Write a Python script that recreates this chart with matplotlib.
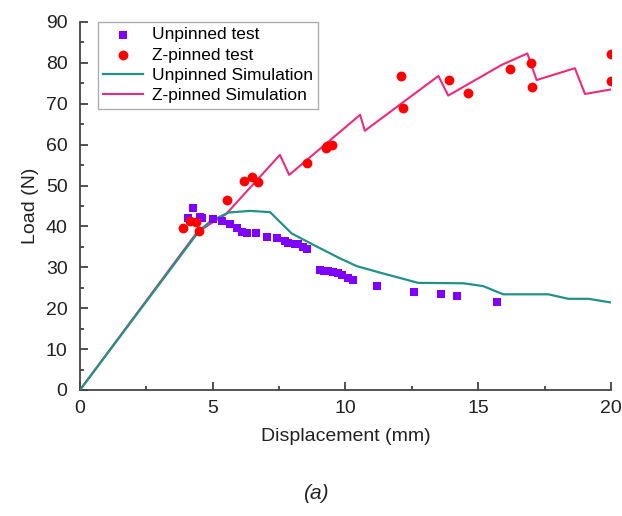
import matplotlib
matplotlib.use("Agg")
from matplotlib import pyplot as plt
from matplotlib.ticker import MultipleLocator

plt.rcParams['font.family'] = ['Liberation Sans', 'DejaVu Sans']

# unpinned test points (mm, N)
unpinned_x = [4.08, 4.27, 4.52, 4.58, 5.0, 5.34, 5.65, 5.9, 6.09, 6.28, 6.63, 7.03, 7.41,
              7.72, 7.85, 8.1, 8.22, 8.41, 8.54, 9.04, 9.2, 9.35, 9.54, 9.73, 9.86, 10.1,
              10.3, 11.2, 12.58, 13.6, 14.2, 15.7]
unpinned_y = [42.1, 44.6, 42.4, 42.0, 41.7, 41.3, 40.5, 39.5, 38.7, 38.5, 38.3, 37.5, 37.1,
              36.5, 36.0, 35.7, 35.6, 35.0, 34.5, 29.3, 29.2, 29.1, 28.9, 28.5, 28.1, 27.3,
              26.9, 25.5, 23.9, 23.4, 23.0, 21.5]

# z-pinned test points
zpinned_x = [3.89, 4.14, 4.36, 4.48, 5.52, 6.18, 6.49, 6.72, 8.54, 9.25, 9.32, 9.48,
             12.1, 12.15, 13.9, 14.6, 16.2, 16.98, 17.04, 20.0, 20.0]
zpinned_y = [39.5, 41.3, 41.0, 39.0, 46.4, 51.2, 52.2, 50.9, 55.6, 59.3, 59.7, 59.9,
             76.7, 68.9, 75.7, 72.7, 78.6, 80.0, 74.1, 82.1, 75.6]

# unpinned simulation
sim_un_x = [0, 4.5, 4.9, 5.59, 6.4, 7.16, 7.97, 8.79, 9.79, 10.42, 11.3, 12.74, 14.44,
            15.19, 15.94, 17.64, 18.39, 19.15, 20.0]
sim_un_y = [0, 39.0, 41.2, 43.4, 43.8, 43.5, 38.3, 35.5, 32.2, 30.3, 28.7, 26.2, 26.1,
            25.4, 23.4, 23.4, 22.3, 22.3, 21.4]

# z-pinned simulation
sim_z_x = [0, 4.4, 4.9, 5.5, 7.53, 7.88, 10.55, 10.73, 13.5, 13.87, 15.88, 16.85, 17.2,
           18.64, 19.02, 20.0]
sim_z_y = [0, 38.5, 40.6, 43.0, 57.5, 52.6, 67.3, 63.4, 76.8, 72.0, 79.5, 82.3, 75.8,
           78.7, 72.4, 73.5]

fig = plt.figure(figsize=(6.22, 5.16), dpi=100)
ax = fig.add_axes([0.1286, 0.2442, 0.8537, 0.7132])

ax.plot(sim_z_x, sim_z_y, color='#ee2a7b', lw=1.5, label='Z-pinned Simulation', zorder=2)
ax.plot(sim_un_x, sim_un_y, color='#22918a', lw=1.6, label='Unpinned Simulation', zorder=3)
ax.scatter(unpinned_x, unpinned_y, marker='s', s=38, color='#7f00ff', lw=0,
           label='Unpinned test', zorder=4)
ax.scatter(zpinned_x, zpinned_y, marker='o', s=50, color='#ff0000', lw=0,
           label='Z-pinned test', zorder=4)

ax.set_xlim(0, 20)
ax.set_ylim(0, 90)
ax.xaxis.set_major_locator(MultipleLocator(5))
ax.xaxis.set_minor_locator(MultipleLocator(2.5))
ax.yaxis.set_major_locator(MultipleLocator(10))
ax.yaxis.set_minor_locator(MultipleLocator(5))
ax.tick_params(which='both', direction='in', colors='#333333', labelsize=14, width=1.2)
ax.tick_params(which='major', length=6)
ax.tick_params(which='minor', length=3)
ax.tick_params(labelcolor='#222222')
ax.tick_params(axis='y', pad=9)
ax.tick_params(axis='x', pad=7)

for s in ['top', 'right']:
    ax.spines[s].set_visible(False)
for s in ['left', 'bottom']:
    ax.spines[s].set_color('#444444')
    ax.spines[s].set_linewidth(1.3)

ax.set_xlabel('Displacement (mm)', fontsize=14, color='#222222', labelpad=8)
ax.set_ylabel('Load (N)', fontsize=14, color='#222222', labelpad=5)

h, l = ax.get_legend_handles_labels()
order = [2, 3, 1, 0]
leg = ax.legend([h[i] for i in order], [l[i] for i in order], loc='upper left',
                bbox_to_anchor=(0.034, 1.0), fontsize=12.5, frameon=True, fancybox=False,
                edgecolor='#999999', borderpad=0.3, labelspacing=0.3, handlelength=2.3,
                handletextpad=0.5, borderaxespad=0)
leg.get_frame().set_linewidth(1.0)

fig.text(0.508, 0.033, '(a)', fontsize=15, style='italic', ha='center', color='#222222')

fig.savefig('out.png', dpi=100)
